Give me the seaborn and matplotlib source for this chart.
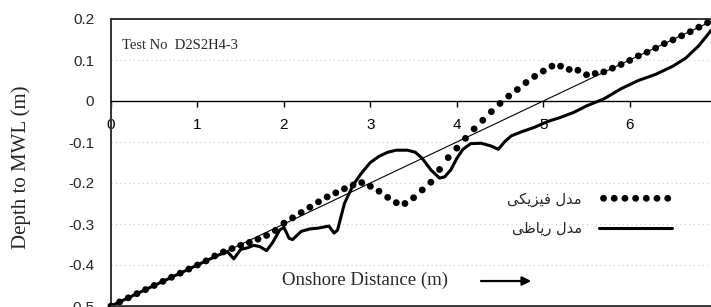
import numpy as np
import pandas as pd
import matplotlib
matplotlib.use("Agg")
import matplotlib.pyplot as plt
import seaborn as sns

# ---------------- data ----------------
phys_x = [round(0.1 * i, 1) for i in range(70)]
phys_y = [-0.500, -0.490, -0.480, -0.470, -0.460, -0.450, -0.440, -0.430, -0.420, -0.410,
          -0.400, -0.390, -0.378, -0.368, -0.360, -0.352, -0.345, -0.337, -0.328, -0.316,
          -0.298, -0.285, -0.272, -0.259, -0.246, -0.234, -0.224, -0.214, -0.205, -0.199,
          -0.208, -0.220, -0.235, -0.248, -0.250, -0.236, -0.217, -0.198, -0.167, -0.138,
          -0.115, -0.091, -0.068, -0.047, -0.026, -0.006, 0.012, 0.028, 0.045, 0.060,
          0.073, 0.085, 0.085, 0.077, 0.075, 0.064, 0.067, 0.071, 0.080, 0.089,
          0.099, 0.110, 0.119, 0.129, 0.140, 0.149, 0.159, 0.169, 0.180, 0.191]

math_x = [0.0, 0.5, 1.0, 1.25, 1.35, 1.42, 1.5, 1.58, 1.65, 1.72, 1.8, 1.87, 1.95, 2.0,
          2.06, 2.1, 2.2, 2.3, 2.4, 2.52, 2.58, 2.62, 2.7, 2.8, 2.9, 3.0, 3.1, 3.2, 3.3,
          3.43, 3.52, 3.6, 3.7, 3.8, 3.86, 3.93, 4.0, 4.07, 4.16, 4.28, 4.4, 4.48, 4.55,
          4.63, 4.75, 4.9, 5.05, 5.2, 5.35, 5.5, 5.7, 5.9, 6.1, 6.3, 6.5, 6.65, 6.8, 6.94]
math_y = [-0.500, -0.450, -0.400, -0.375, -0.368, -0.385, -0.362, -0.358, -0.352, -0.355,
          -0.365, -0.345, -0.315, -0.308, -0.335, -0.338, -0.318, -0.312, -0.310, -0.305,
          -0.322, -0.315, -0.250, -0.205, -0.175, -0.150, -0.135, -0.125, -0.120, -0.120,
          -0.125, -0.140, -0.168, -0.188, -0.185, -0.168, -0.140, -0.118, -0.104, -0.103,
          -0.110, -0.118, -0.100, -0.085, -0.075, -0.064, -0.050, -0.040, -0.028, -0.012,
          0.005, 0.030, 0.050, 0.065, 0.085, 0.105, 0.135, 0.172]

ref_x = [0.0, 7.0]
ref_y = [-0.5, 0.2]

x_ticks = [0, 1, 2, 3, 4, 5, 6]
x_tick_labels = ["0", "1", "2", "3", "4", "5", "6"]
y_ticks = [-0.5, -0.4, -0.3, -0.2, -0.1, 0.0, 0.1, 0.2]
y_tick_labels = ["-0.5", "-0.4", "-0.3", "-0.2", "-0.1", "0", "0.1", "0.2"]

# Persian labels (shaped presentation forms, visual order)
label_phys = "\uFBFD\uFB91\uFBFE\uFEB0\uFBFF\uFED3 \uFEDD\uFEAA\uFEE3"   # مدل فیزیکی
label_math = "\uFBFD\uFEC7\uFE8E\uFBFE\uFEAD \uFEDD\uFEAA\uFEE3"         # مدل ریاضی
title_text = "Test No  D2S2H4-3"
xlabel_text = "Onshore Distance (m)"
ylabel_text = "Depth to MWL (m)"

phys_df = pd.DataFrame({"x": phys_x, "y": phys_y})
math_df = pd.DataFrame({"x": math_x, "y": math_y})
ref_df = pd.DataFrame({"x": ref_x, "y": ref_y})

# ---------------- style ----------------
sns.set_style("white")
plt.rcParams["font.family"] = ["Liberation Sans", "DejaVu Sans"]
plt.rcParams["axes.unicode_minus"] = False

fig = plt.figure(figsize=(7.11, 3.07), dpi=100)
ax = fig.add_axes([111 / 711, 1 / 307, 600 / 711, 287 / 307])

xmin, xmax = 0.0, 6.94
ymin, ymax = -0.5, 0.2
ax.set_xlim(xmin, xmax)
ax.set_ylim(ymin, ymax)

# grid lines
for yv in y_ticks:
    if yv not in (ymin, ymax, 0.0):
        ax.axhline(yv, color="#c8c8c8", lw=0.8, ls=(0, (1, 3)), zorder=0)

sns.lineplot(data=ref_df, x="x", y="y", ax=ax, color="black", lw=0.8,
             estimator=None, sort=False, zorder=2, label="_nolegend_")
sns.lineplot(data=math_df, x="x", y="y", ax=ax, color="black", lw=2.2,
             estimator=None, sort=False, zorder=3, label=label_math)
sns.scatterplot(data=phys_df, x="x", y="y", ax=ax, color="black", s=24,
                edgecolor="none", zorder=4, label=label_phys, clip_on=False)

# frame
for side in ["top", "left"]:
    ax.spines[side].set_color("#333333")
    ax.spines[side].set_linewidth(1.4)
ax.spines["right"].set_visible(False)
# bottom frame line
ax.axhline(ymin, color="#333333", lw=2.0, clip_on=False, zorder=5)

# x axis drawn along the zero line
ax.spines["bottom"].set_position(("data", 0.0))
ax.spines["bottom"].set_color("black")
ax.spines["bottom"].set_linewidth(1.0)
ax.set_xticks(x_ticks)
ax.set_xticklabels(x_tick_labels, fontsize=11, family=["Liberation Sans"])
ax.tick_params(axis="x", direction="out", length=4, width=1, pad=8,
               colors="black", bottom=True, top=False)
ax.set_xlabel("")

# y axis
ax.set_yticks(y_ticks)
ax.set_yticklabels(y_tick_labels, fontsize=11, family=["Liberation Sans"])
ax.tick_params(axis="y", length=0, pad=12)
ax.set_ylabel(ylabel_text, fontsize=15, family=["Liberation Serif"], labelpad=27)
ax.yaxis.label.set_y(0.484)

# annotations
ax.text(0.018, 0.909, title_text, transform=ax.transAxes, fontsize=10.5,
        family=["Liberation Serif"], va="center", ha="left")
ax.text(0.424, 0.09, xlabel_text, transform=ax.transAxes, fontsize=13.5,
        family=["Liberation Serif"], va="center", ha="center")
ax.annotate("", xy=(0.705, 0.087), xytext=(0.612, 0.087), xycoords="axes fraction",
            arrowprops=dict(arrowstyle="-|>", color="black", lw=1.6,
                            mutation_scale=13))

# legend
handles, labels = ax.get_legend_handles_labels()
order = [labels.index(label_phys), labels.index(label_math)]
leg = ax.legend([handles[i] for i in order], [labels[i] for i in order],
                loc="upper right", bbox_to_anchor=(0.957, 0.445), frameon=False,
                markerfirst=False, scatterpoints=7, scatteryoffsets=[0.5],
                handlelength=5.0,
                prop={"family": ["DejaVu Sans"], "size": 10.5}, labelspacing=1.0,
                handletextpad=1.2)

fig.savefig("out.png", dpi=100)
